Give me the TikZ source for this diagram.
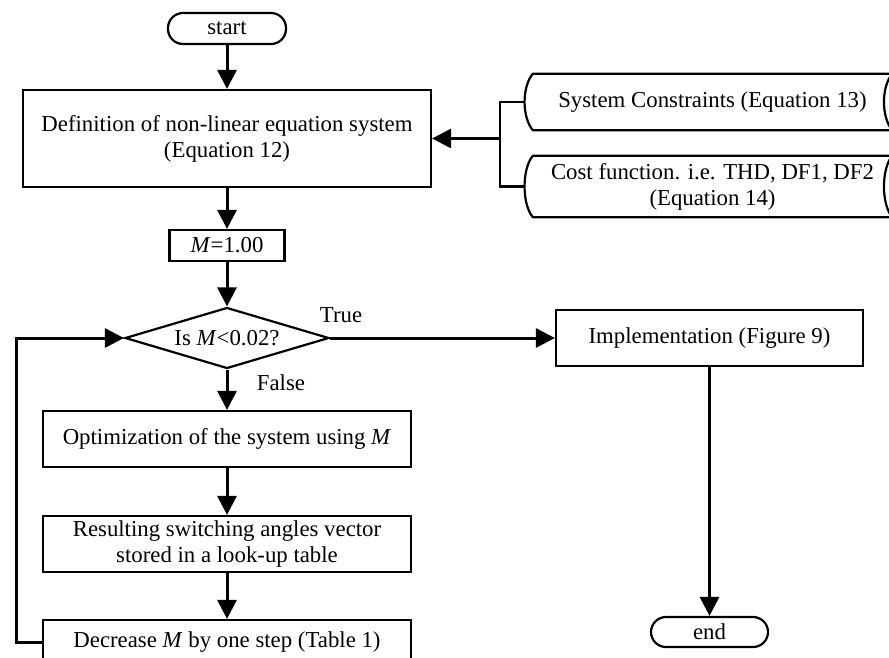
\documentclass[tikz,border=0pt]{standalone}
\usepackage{fontspec}
\setmainfont{Liberation Serif}
\usetikzlibrary{arrows.meta,shapes.geometric}
\begin{document}
\begin{tikzpicture}[x=1pt,y=-1pt,
  every node/.style={font=\fontsize{22.8}{26}\selectfont, inner sep=0pt},
  box/.style={draw, line width=2.2pt, rectangle, align=center},
  term/.style={draw, line width=2.2pt, rectangle, rounded corners=15pt},
  arr/.style={line width=3pt, -{Triangle[length=19pt,width=19pt]}},
  ln/.style={line width=2.6pt},
  store/.style={draw=none, align=center}
]
\useasboundingbox (0,0) rectangle (889,657);

\node[term, minimum width=118pt, minimum height=31pt] (start) at (227,28.5) {start};
\node[box, minimum width=408pt, minimum height=97pt] (def) at (227,138.5) {Definition of non-linear equation system\\(Equation 12)};
\node[box, minimum width=115pt, minimum height=31pt] (m) at (227,245.5) {\textit{M}=1.00};
\node[diamond, draw, line width=2.2pt, aspect=3.3, minimum width=204pt, minimum height=61pt] (dec) at (227,338) {Is \textit{M}<0.02?};
\node[box, minimum width=368pt, minimum height=56pt] (opt) at (227,439) {Optimization of the system using \textit{M}};
\node[box, minimum width=368pt, minimum height=56pt] (res) at (227,544) {Resulting switching angles vector\\stored in a look-up table};
\node[box, minimum width=368pt, minimum height=44pt] (decr) at (227,642) {Decrease \textit{M} by one step (Table 1)};
\node[box, minimum width=307pt, minimum height=56pt] (impl) at (709.5,338) {Implementation (Figure 9)};
\node[term, minimum width=117pt, minimum height=30pt] (end) at (709.5,632) {end};

\node[store, minimum width=359pt, minimum height=56pt] (s1) at (712.5,102) {System Constraints (Equation 13)};
\node[store, minimum width=359pt, minimum height=61pt] (s2) at (712.5,186.5) {Cost function. i.e. THD, DF1, DF2\\(Equation 14)};
\foreach \s in {s1,s2}{
  \draw[line width=2.2pt, line join=round]
    (\s.north west) -- (\s.north east)
    .. controls ([xshift=-11pt,yshift=-13pt]\s.north east) and ([xshift=-11pt,yshift=13pt]\s.south east) .. (\s.south east)
    -- (\s.south west)
    .. controls ([xshift=-11pt,yshift=13pt]\s.south west) and ([xshift=-11pt,yshift=-13pt]\s.north west) .. (\s.north west) -- cycle;
}

\path (def.east) ++(68,0) coordinate (bx);
\draw[ln] ([xshift=-8pt]s1.west) -- (s1.west -| bx) -- (s2.west -| bx) -- ([xshift=-8pt]s2.west);
\draw[arr] (bx) -- (def.east);

\draw[arr] (start) -- (def);
\draw[arr] (def) -- (m);
\draw[arr] (m) -- (dec);
\draw[arr] (dec) -- (opt);
\draw[arr] (opt) -- (res);
\draw[arr] (res) -- (decr);
\draw[arr] (dec.east) -- (impl.west);
\draw[arr] (impl) -- (end);
\coordinate (lp) at (16,0);
\draw[arr] (decr.west) -- (decr.west -| lp) |- (dec.west);

\node (true) at (341,315) {True};
\node (false) at (281,383) {False};
\end{tikzpicture}
\end{document}
